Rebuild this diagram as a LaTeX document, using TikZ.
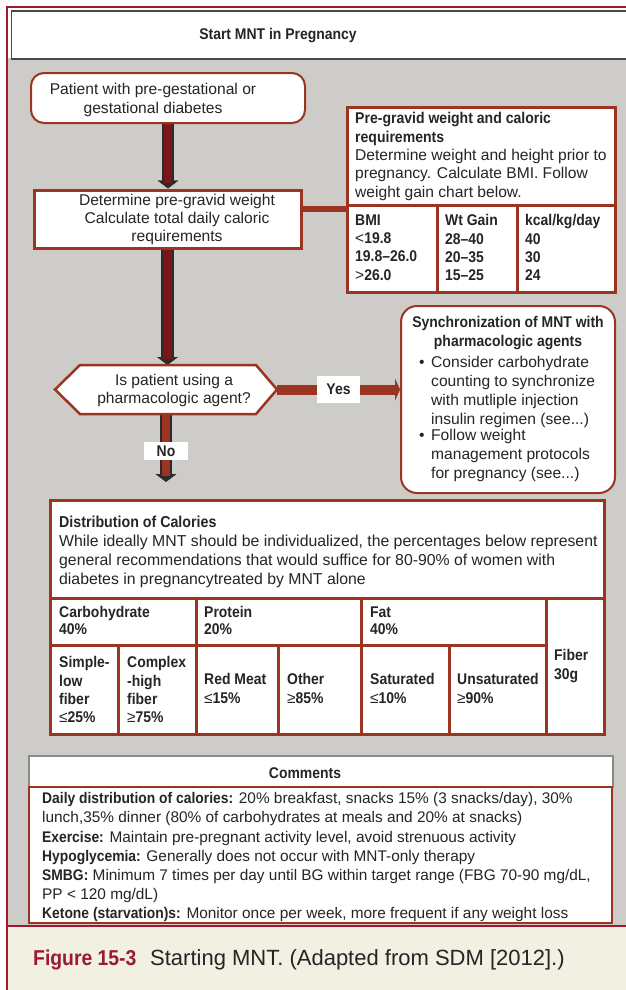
\documentclass[tikz,border=0pt]{standalone}
\usepackage{fontspec}
\setmainfont{Liberation Sans}[BoldFeatures={FakeStretch=0.9}]
\usetikzlibrary{arrows.meta}

\definecolor{boxred}{HTML}{9B3420}
\definecolor{shaftdark}{HTML}{7A1518}
\definecolor{shaftedge}{HTML}{2E2A2A}
\definecolor{framered}{HTML}{A3182E}
\definecolor{panelgray}{HTML}{CECCC8}
\definecolor{capcream}{HTML}{F2EFE3}
\definecolor{capred}{HTML}{9B1B30}
\definecolor{ink}{HTML}{262424}
\definecolor{rulegray}{HTML}{4A4848}
\definecolor{commentgray}{HTML}{8A8A8A}

\pgfdeclarelayer{panels}
\pgfdeclarelayer{links}
\pgfsetlayers{panels,links,main}

\newcommand{\txtsize}[2]{\fontsize{#1}{#2}\selectfont}

\tikzset{
  txt/.style={inner sep=0pt, text=ink, font=\txtsize{15.6}{18.3}},
  btxt/.style={inner sep=0pt, text=ink, font=\bfseries\txtsize{15.5}{18.3}},
  plainbox/.style={draw=boxred, line width=3pt, fill=white, inner sep=0pt},
  roundbox/.style={draw=boxred, line width=2pt, fill=white, inner sep=0pt, rounded corners=13pt},
  gridline/.style={draw=boxred, line width=3pt},
  heavyarrow/.style={draw=shaftedge, line width=12.5pt,
    -{Triangle[length=8pt, width=21pt, line width=0.4pt]},
    postaction={draw=#1, line width=8.5pt, -, shorten >=6pt}},
  yesarrow/.style={draw=boxred, line width=10pt,
    -{Triangle[length=5pt, width=22pt, line width=0.4pt]}},
  flaglabel/.style={fill=white, inner sep=0pt, text=ink, font=\bfseries\txtsize{15.5}{18}},
}

\begin{document}
\begin{tikzpicture}[x=1pt, y=-1pt]
\useasboundingbox (0,0) rectangle (626,990);

% page panels
\begin{pgfonlayer}{panels}
  \fill[white] (0,0) rectangle (626,990);
  \fill[panelgray] (8,58) rectangle (626,925);
  \fill[capcream] (8,925) rectangle (626,990);
\end{pgfonlayer}

% heading bar and frame rules
\node[draw=rulegray, line width=1.6pt, fill=white, minimum width=640pt,
      minimum height=48pt, anchor=north west, inner sep=0pt] (titlebar) at (10.5,10.5) {};
\node[btxt] (titletext) at (278,36) {Start MNT in Pregnancy};
\draw[framered, line width=2.5pt] (7,990) -- (7,7) -- (630,7);
\draw[framered, line width=2pt] (7,925.5) -- (630,925.5);

% starting condition
\node[roundbox, minimum width=274pt, minimum height=50pt] (start) at (168,98) {};
\node[txt, align=center, font=\txtsize{15.6}{19}] (startT) at (153,99.5)
  {Patient with pre-gestational or\\gestational diabetes};

% pre-gravid weight step
\node[plainbox, minimum width=267pt, minimum height=58pt] (weight) at (167.5,219) {};
\node[txt, align=center] (weightT) at (177,219.5)
  {Determine pre-gravid weight\\Calculate total daily caloric\\requirements};

% pre-gravid requirements panel
\node[plainbox, minimum width=268pt, minimum height=185pt] (pregravid) at (481,199.5) {};
\draw[gridline] (347,205) -- (615,205);
\draw[gridline] (437,205) -- (437,292);
\draw[gridline] (517,205) -- (517,292);
\node[txt, anchor=north west, align=left] (pgText) at (355,112.4)
  {\textbf{Pre-gravid weight and caloric}\\\textbf{requirements}\\Determine weight and height prior to\\pregnancy. Calculate BMI. Follow\\weight gain chart below.};
\node[btxt, anchor=north west, align=left] (pgBMI) at (355,214.4)
  {BMI\\{\mdseries <}19.8\\19.8–26.0\\{\mdseries >}26.0};
\node[btxt, anchor=north west, align=left] (pgGain) at (445,214.4)
  {Wt Gain\\28–40\\20–35\\15–25};
\node[btxt, anchor=north west, align=left] (pgKcal) at (525,214.4)
  {kcal/kg/day\\40\\30\\24};

% decision
\node[inner sep=0pt, outer sep=0pt, minimum width=222pt, minimum height=49pt] (decision) at (166,389.5) {};
\draw[boxred, line width=2.5pt, fill=white]
  (decision.west) -- ([xshift=25pt]decision.north west) -- ([xshift=-21pt]decision.north east)
  -- (decision.east) -- ([xshift=-21pt]decision.south east) -- ([xshift=25pt]decision.south west) -- cycle;
\node[txt, align=center, font=\txtsize{15.6}{18}] (decisionT) at (174,390.5)
  {Is patient using a\\pharmacologic agent?};

% pharmacologic branch
\node[roundbox, minimum width=214pt, minimum height=187pt, rounded corners=16pt] (sync) at (508,399.5) {};
\node[btxt, align=center, font=\bfseries\txtsize{15.5}{19}] (syncT) at (508,333)
  {Synchronization of MNT with\\pharmacologic agents};
\node[txt, anchor=base west] (bulletA) at (419,367.4) {•};
\node[txt, anchor=north west, align=left, font=\txtsize{15.6}{19}] (bulletAT) at (431,356.4)
  {Consider carbohydrate\\counting to synchronize\\with mutliple injection\\insulin regimen (see...)};
\node[txt, anchor=base west] (bulletB) at (419,440.4) {•};
\node[txt, anchor=north west, align=left, font=\txtsize{15.6}{19}] (bulletBT) at (431,429.4)
  {Follow weight\\management protocols\\for pregnancy (see...)};

% distribution of calories table
\node[plainbox, minimum width=554pt, minimum height=234pt] (dist) at (327,617) {};
\draw[gridline] (50,598) -- (604,598);
\draw[gridline] (50,645) -- (546,645);
\draw[gridline] (196,598) -- (196,734);
\draw[gridline] (361,598) -- (361,734);
\draw[gridline] (546,598) -- (546,734);
\draw[gridline] (118,645) -- (118,734);
\draw[gridline] (278,645) -- (278,734);
\draw[gridline] (449,645) -- (449,734);
\node[txt, anchor=north west, align=left, font=\txtsize{15.8}{19}] (distText) at (59,515.4)
  {\textbf{Distribution of Calories}\\While ideally MNT should be individualized, the percentages below represent\\general recommendations that would suffice for 80-90\% of women with\\diabetes in pregnancytreated by MNT alone};
\node[btxt, anchor=north west, align=left, font=\bfseries\txtsize{15.5}{17}] (cellCarb) at (59,606.4) {Carbohydrate\\40\%};
\node[btxt, anchor=north west, align=left, font=\bfseries\txtsize{15.5}{17}] (cellProt) at (204,606.4) {Protein\\20\%};
\node[btxt, anchor=north west, align=left, font=\bfseries\txtsize{15.5}{17}] (cellFat) at (370,606.4) {Fat\\40\%};
\node[btxt, anchor=north west, align=left] (cellSimple) at (59,656.4) {Simple-\\low\\fiber\\{\mdseries ≤}25\%};
\node[btxt, anchor=north west, align=left] (cellComplex) at (127,656.4) {Complex\\-high\\fiber\\{\mdseries ≥}75\%};
\node[btxt, anchor=north west, align=left] (cellRed) at (204,673.4) {Red Meat\\{\mdseries ≤}15\%};
\node[btxt, anchor=north west, align=left] (cellOther) at (287,673.4) {Other\\{\mdseries ≥}85\%};
\node[btxt, anchor=north west, align=left] (cellSat) at (370,673.4) {Saturated\\{\mdseries ≤}10\%};
\node[btxt, anchor=north west, align=left] (cellUnsat) at (457,673.4) {Unsaturated\\{\mdseries ≥}90\%};
\node[btxt, anchor=north west, align=left] (cellFiber) at (554,649.4) {Fiber\\30g};

% comments
\node[draw=commentgray, line width=1.2pt, fill=white, inner sep=0pt,
      minimum width=584pt, minimum height=31pt] (commentsHead) at (321,771.5) {};
\node[btxt] (commentsTitle) at (305,773) {Comments};
\node[draw=boxred, line width=1.5pt, fill=white, inner sep=0pt,
      minimum width=583pt, minimum height=136pt] (comments) at (320.5,855) {};
\node[txt, anchor=north west, align=left, font=\txtsize{15.4}{19.2}] (commentsText) at (42,792.4)
  {\textbf{Daily distribution of calories:} 20\% breakfast, snacks 15\% (3 snacks/day), 30\%\\
   lunch,35\% dinner (80\% of carbohydrates at meals and 20\% at snacks)\\
   \textbf{Exercise:} Maintain pre-pregnant activity level, avoid strenuous activity\\
   \textbf{Hypoglycemia:} Generally does not occur with MNT-only therapy\\
   \textbf{SMBG:} Minimum 7 times per day until BG within target range (FBG 70-90 mg/dL,\\
   PP < 120 mg/dL)\\
   \textbf{Ketone (starvation)s:} Monitor once per week, more frequent if any weight loss};

% caption
\node[anchor=west, inner sep=0pt, text=capred, font=\bfseries\txtsize{21.5}{24}] (figLabel) at (33,960) {Figure 15-3};
\node[anchor=west, inner sep=0pt, text=ink, font=\txtsize{22}{24}] (figCaption) at (150,960)
  {Starting MNT. (Adapted from SDM [2012].)};

% connectors
\coordinate (noTip) at ([yshift=16.5pt]dist.north -| decision.south);
\begin{pgfonlayer}{links}
  \draw[heavyarrow=shaftdark] (start.south) -- (start.south |- weight.north);
  \draw[heavyarrow=shaftdark] (weight.south) -- (weight.south |- decision.north);
  \draw[heavyarrow=boxred] (decision.south) --
    node[flaglabel, pos=0.55, minimum width=44pt, minimum height=18pt] (noLabel) {No} (noTip);
  \draw[yesarrow] (decision.east) --
    node[flaglabel, minimum width=43pt, minimum height=27pt] (yesLabel) {Yes} (decision.east -| sync.west);
  \draw[boxred, line width=6.5pt] ([yshift=10pt]weight.east) -- ([yshift=10pt]weight.east -| pregravid.west);
\end{pgfonlayer}
\end{tikzpicture}
\end{document}
